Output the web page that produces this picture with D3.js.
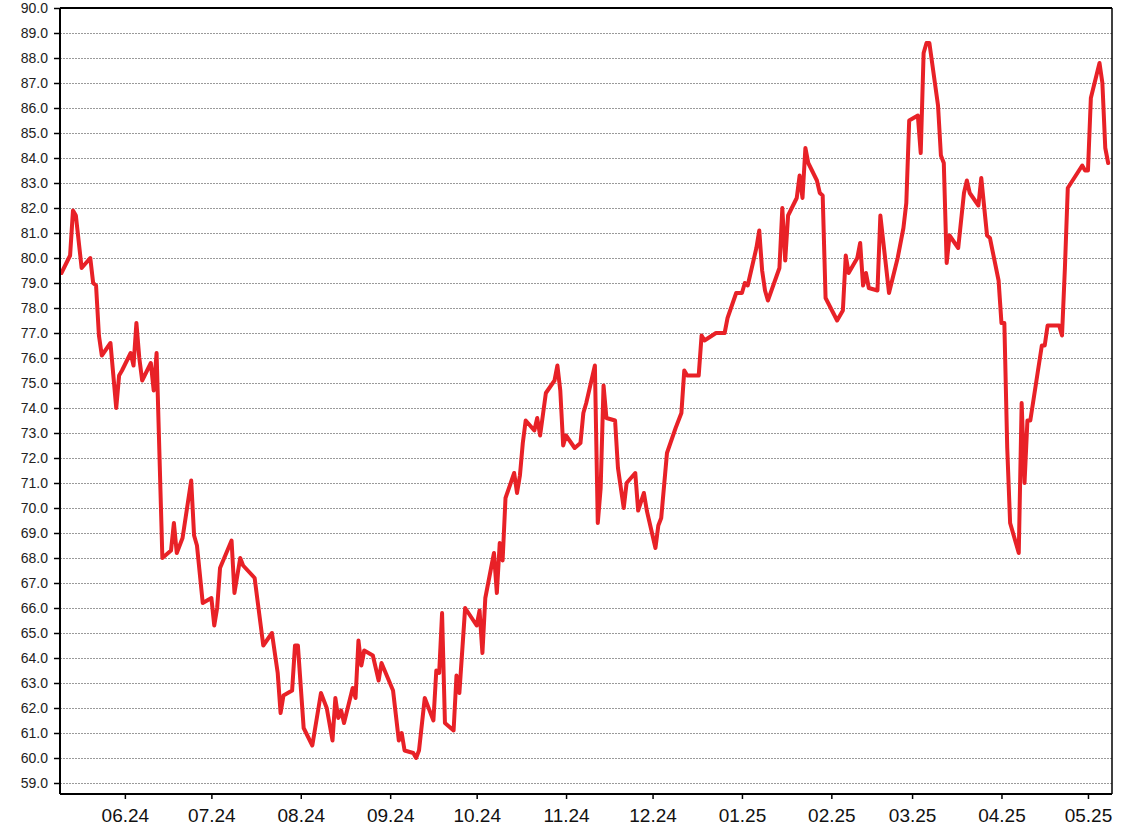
<!DOCTYPE html>
<html>
<head>
<meta charset="utf-8">
<script src="https://cdn.jsdelivr.net/npm/d3@7"></script>
<style>
  html, body { margin: 0; padding: 0; background: #fff; }
  svg { display: block; font-family: "Liberation Sans", Arial, sans-serif; }
</style>
</head>
<body>
<svg id="chart" width="1128" height="836"></svg>
<script>
// ---- data ----
const dates = [
"2024-05-10","2024-05-13","2024-05-14","2024-05-15","2024-05-17","2024-05-20","2024-05-21","2024-05-22","2024-05-23","2024-05-24",
"2024-05-27","2024-05-29","2024-05-30","2024-05-31","2024-06-03","2024-06-04","2024-06-05","2024-06-06","2024-06-07","2024-06-10",
"2024-06-11","2024-06-12","2024-06-14","2024-06-17","2024-06-18","2024-06-19","2024-06-21","2024-06-24","2024-06-25","2024-06-26",
"2024-06-28","2024-07-01","2024-07-02","2024-07-03","2024-07-04","2024-07-08","2024-07-09","2024-07-11","2024-07-12","2024-07-16",
"2024-07-17","2024-07-19","2024-07-22","2024-07-24","2024-07-25","2024-07-26","2024-07-29","2024-07-30","2024-07-31","2024-08-02",
"2024-08-05","2024-08-08","2024-08-10","2024-08-12","2024-08-13","2024-08-14","2024-08-15","2024-08-16","2024-08-19","2024-08-20",
"2024-08-21","2024-08-22","2024-08-23","2024-08-26","2024-08-28","2024-08-29","2024-09-02","2024-09-04","2024-09-05","2024-09-06",
"2024-09-09","2024-09-10","2024-09-11","2024-09-13","2024-09-16","2024-09-17","2024-09-18","2024-09-19","2024-09-20","2024-09-23",
"2024-09-24","2024-09-25","2024-09-27","2024-10-01","2024-10-02","2024-10-03","2024-10-04","2024-10-07","2024-10-08","2024-10-09",
"2024-10-10","2024-10-11","2024-10-14","2024-10-15","2024-10-16","2024-10-17","2024-10-18","2024-10-21","2024-10-22","2024-10-23",
"2024-10-25","2024-10-28","2024-10-29","2024-10-30","2024-10-31","2024-11-01","2024-11-04","2024-11-06","2024-11-07","2024-11-08",
"2024-11-11","2024-11-12","2024-11-13","2024-11-14","2024-11-15","2024-11-18","2024-11-19","2024-11-21","2024-11-22","2024-11-25",
"2024-11-26","2024-11-28","2024-11-29","2024-12-02","2024-12-03","2024-12-04","2024-12-06","2024-12-09","2024-12-11","2024-12-12",
"2024-12-13","2024-12-16","2024-12-17","2024-12-18","2024-12-19","2024-12-23","2024-12-26","2024-12-27","2024-12-30","2025-01-01",
"2025-01-02","2025-01-03","2025-01-06","2025-01-07","2025-01-08","2025-01-09","2025-01-10","2025-01-14","2025-01-15","2025-01-16",
"2025-01-17","2025-01-20","2025-01-21","2025-01-22","2025-01-23","2025-01-24","2025-01-27","2025-01-28","2025-01-29","2025-01-30",
"2025-02-03","2025-02-05","2025-02-06","2025-02-07","2025-02-10","2025-02-11","2025-02-12","2025-02-13","2025-02-14","2025-02-17",
"2025-02-18","2025-02-21","2025-02-24","2025-02-26","2025-02-27","2025-02-28","2025-03-03","2025-03-04","2025-03-05","2025-03-06",
"2025-03-07","2025-03-10","2025-03-11","2025-03-12","2025-03-13","2025-03-14","2025-03-17","2025-03-19","2025-03-20","2025-03-21",
"2025-03-24","2025-03-25","2025-03-27","2025-03-28","2025-03-31","2025-04-01","2025-04-02","2025-04-03","2025-04-04","2025-04-07",
"2025-04-08","2025-04-09","2025-04-10","2025-04-11","2025-04-15","2025-04-16","2025-04-17","2025-04-21","2025-04-22","2025-04-23",
"2025-04-24","2025-04-29","2025-04-30","2025-05-01","2025-05-02","2025-05-05","2025-05-06","2025-05-07","2025-05-08"
];
const prices = [
79.4,80.1,81.9,81.7,79.6,80.0,79.0,78.9,76.9,76.1,
76.6,74.0,75.3,75.5,76.2,75.7,77.4,76.0,75.1,75.8,
74.7,76.2,68.0,68.3,69.4,68.2,68.8,71.1,68.9,68.5,
66.2,66.4,65.3,66.0,67.6,68.7,66.6,68.0,67.7,67.2,
66.3,64.5,65.0,63.4,61.8,62.5,62.7,64.5,64.5,61.2,
60.5,62.6,62.0,60.7,62.4,61.6,61.9,61.4,62.8,62.4,
64.7,63.7,64.3,64.1,63.1,63.8,62.7,60.7,61.0,60.3,
60.2,60.0,60.3,62.4,61.5,63.5,63.4,65.8,61.4,61.1,
63.3,62.6,66.0,65.3,65.9,64.2,66.4,68.2,66.6,68.6,
67.9,70.4,71.4,70.6,71.3,72.6,73.5,73.1,73.6,72.9,
74.6,75.1,75.7,74.7,72.5,72.9,72.4,72.6,73.8,74.2,
75.7,69.4,70.8,74.9,73.6,73.5,71.6,70.0,71.0,71.4,
69.9,70.6,69.9,68.4,69.3,69.6,72.2,73.2,73.8,75.5,
75.3,75.3,75.3,76.9,76.7,77.0,77.0,77.6,78.6,78.6,
79.0,78.9,80.4,81.1,79.5,78.7,78.3,79.6,82.0,79.9,
81.7,82.4,83.3,82.4,84.4,83.8,83.1,82.6,82.5,78.4,
77.5,77.9,80.1,79.4,80.0,80.6,78.9,79.4,78.8,78.7,
81.7,78.6,80.0,81.2,82.2,85.5,85.7,84.2,88.2,88.6,
88.6,86.1,84.1,83.8,79.8,80.9,80.4,82.6,83.1,82.6,
82.1,83.2,80.9,80.8,79.1,77.4,77.4,72.4,69.4,68.2,
74.2,71.0,73.5,73.5,76.5,76.5,77.3,77.3,76.9,79.6,
82.8,83.7,83.5,83.5,86.4,87.8,87.0,84.4,83.8
];
const xTickDates = ["2024-06-01","2024-07-01","2024-08-01","2024-09-01","2024-10-01","2024-11-01",
                    "2024-12-01","2025-01-01","2025-02-01","2025-03-01","2025-04-01","2025-05-01"];
const xTickLabels = ["06.24","07.24","08.24","09.24","10.24","11.24","12.24","01.25","02.25","03.25","04.25","05.25"];
const yTicks = [59,60,61,62,63,64,65,66,67,68,69,70,71,72,73,74,75,76,77,78,79,80,81,82,83,84,85,86,87,88,89,90];

(function () {
// ---- layout ----
const W = 1128, H = 836;
const mL = 60, mR = 1112, mT = 8, mB = 794;
const parse = d3.utcParse("%Y-%m-%d");
const data = dates.map((d, i) => ({ date: parse(d), value: prices[i] }));

const x = d3.scaleUtc()
  .domain([new Date(Date.UTC(2024, 4, 9, 12)), new Date(Date.UTC(2025, 4, 9, 8))])
  .range([mL, mR]);
const y = d3.scaleLinear().domain([58.56, 90]).range([mB, mT]);

const svg = d3.select("#chart");
svg.append("rect").attr("width", W).attr("height", H).attr("fill", "#fff");

// grid lines
svg.append("g").selectAll("line").data(yTicks.filter(t => t < 90)).join("line")
  .attr("x1", mL).attr("x2", mR)
  .attr("y1", d => Math.round(y(d)) + 0.5).attr("y2", d => Math.round(y(d)) + 0.5)
  .attr("stroke", "#9a9a9a").attr("stroke-width", 1).attr("stroke-dasharray", "2,1");

// frame top/right
svg.append("line").attr("x1", mL).attr("x2", mR).attr("y1", mT).attr("y2", mT)
  .attr("stroke", "#000").attr("stroke-width", 2);
svg.append("line").attr("x1", mR).attr("x2", mR).attr("y1", mT).attr("y2", mB)
  .attr("stroke", "#000").attr("stroke-width", 1.5);

// line
const line = d3.line().x(d => x(d.date)).y(d => y(d.value)).curve(d3.curveLinear);
svg.append("path").datum(data)
  .attr("fill", "none").attr("stroke", "#e82127").attr("stroke-width", 4)
  .attr("stroke-linejoin", "round").attr("stroke-linecap", "round")
  .attr("d", line);

// y axis
const yAxis = d3.axisLeft(y).tickValues(yTicks).tickSize(6).tickPadding(6)
  .tickFormat(d3.format(".1f"));
const gy = svg.append("g").attr("transform", `translate(${mL},0)`).call(yAxis);
gy.select(".domain").attr("stroke", "#000").attr("stroke-width", 2).attr("d", `M0,${mT}V${mB}`);
gy.selectAll(".tick line").attr("stroke", "#000").attr("stroke-width", 1.5);
gy.selectAll(".tick text").attr("font-size", 14).attr("fill", "#222")
  .attr("font-family", "'Liberation Sans', Arial, sans-serif");

// x axis
const xAxis = d3.axisBottom(x).tickValues(xTickDates.map(parse)).tickSize(5).tickPadding(10)
  .tickFormat((d, i) => xTickLabels[i]);
const gx = svg.append("g").attr("transform", `translate(0,${mB})`).call(xAxis);
gx.select(".domain").attr("stroke", "#000").attr("stroke-width", 2).attr("d", `M${mL},0H${mR}`);
gx.selectAll(".tick line").attr("stroke", "#000").attr("stroke-width", 1.5);
gx.selectAll(".tick text").attr("font-size", 19).attr("fill", "#111")
  .attr("font-family", "'Liberation Sans', Arial, sans-serif");
})();
</script>
</body>
</html>
